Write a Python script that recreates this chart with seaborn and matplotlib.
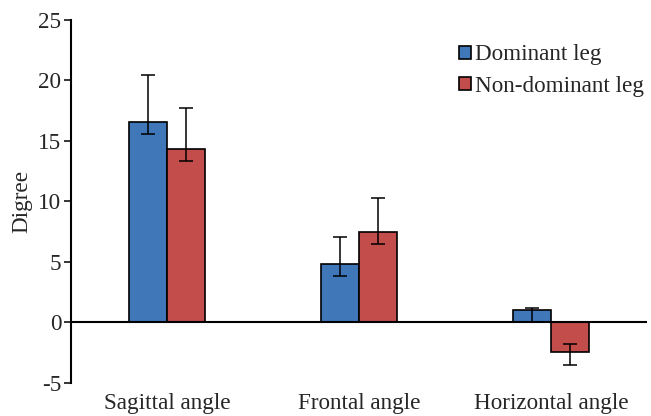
import numpy as np
import pandas as pd
import matplotlib.pyplot as plt
import seaborn as sns

angles = ['Sagittal angle', 'Frontal angle', 'Horizontal angle']
legs = ['Dominant leg', 'Non-dominant leg']
dominant = [16.6, 4.8, 1.0]
non_dominant = [14.35, 7.5, -2.45]
# asymmetric error bars (lower end, upper end)
dominant_err_lo = [15.6, 3.8, 0.0]
dominant_err_hi = [20.45, 7.05, 1.15]
non_dominant_err_lo = [13.35, 6.5, -3.5]
non_dominant_err_hi = [17.7, 10.25, -1.8]

colors = ['#3F77B9', '#C24D4B']

sns.set_style('white')
plt.rcParams['font.family'] = ['Liberation Serif', 'DejaVu Serif']
plt.rcParams['axes.unicode_minus'] = False

df = pd.DataFrame({
    'angle': angles * 2,
    'value': dominant + non_dominant,
    'leg': [legs[0]] * 3 + [legs[1]] * 3,
})

fs = 16.7
fig, ax = plt.subplots(figsize=(6.51, 4.16), dpi=100)
sns.barplot(data=df, x='angle', y='value', hue='leg', palette=colors,
            width=0.4, edgecolor='black', linewidth=1.2, errorbar=None,
            saturation=1, ax=ax)

lows = [dominant_err_lo, non_dominant_err_lo]
highs = [dominant_err_hi, non_dominant_err_hi]
for cont, lo, hi in zip(ax.containers, lows, highs):
    for bar, l, h in zip(cont, lo, hi):
        xc = bar.get_x() + bar.get_width() / 2
        ax.errorbar([xc], [(l + h) / 2], yerr=[[(h - l) / 2], [(h - l) / 2]],
                    fmt='none', ecolor='black', elinewidth=1.1, capsize=5,
                    capthick=1.1)

ax.axhline(0, color='black', linewidth=1.5, zorder=3)
ax.set_ylim(-5, 25)
ax.set_yticks(range(-5, 26, 5))
ax.set_xlim(-0.5, 2.5)
ax.set_xlabel('')
ax.set_ylabel('Digree', fontsize=fs, labelpad=4)
ax.tick_params(axis='y', labelsize=fs, length=5, width=1.3, direction='out',
               left=True, pad=2)
ax.tick_params(axis='x', labelsize=fs, length=0, pad=7.5)
ax.xaxis.set_ticks_position('bottom')
sns.despine(ax=ax, bottom=True)
ax.spines['left'].set_linewidth(1.5)
ax.spines['left'].set_color('black')

ax.legend(frameon=False, loc='upper right', bbox_to_anchor=(1.03, 0.99),
          fontsize=fs, handlelength=0.5, handleheight=0.5,
          handletextpad=0.15, labelspacing=0.45)

fig.subplots_adjust(left=0.109, right=0.994, top=0.952, bottom=0.08)
fig.savefig('out.png', dpi=100)
